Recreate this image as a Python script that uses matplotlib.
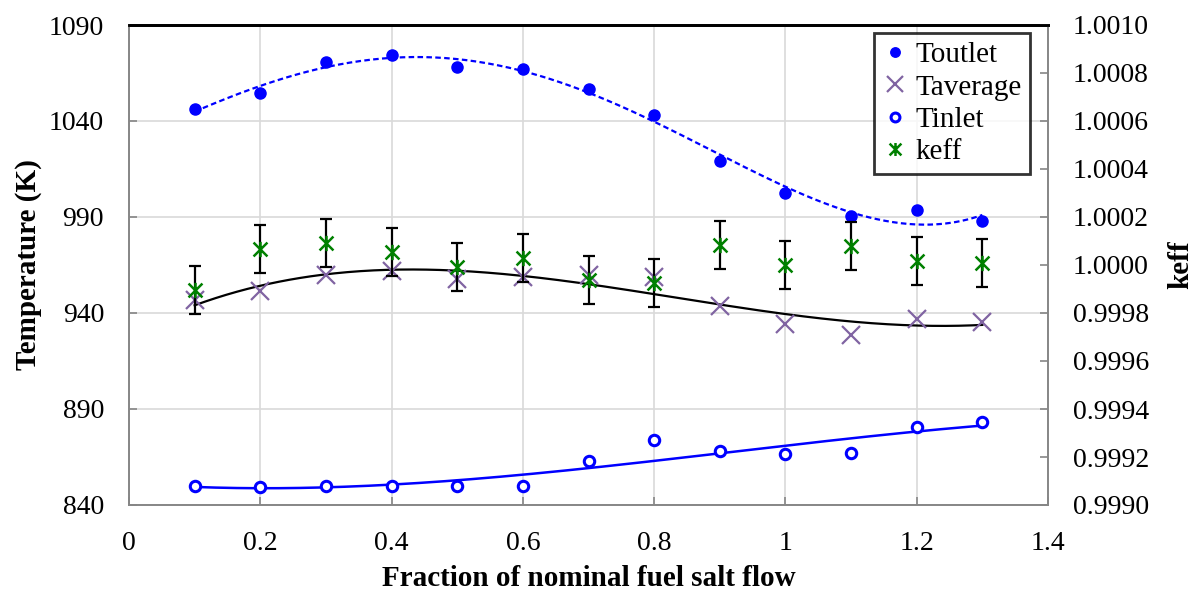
import numpy as np
import matplotlib
matplotlib.use("Agg")
import matplotlib.pyplot as plt
from matplotlib.path import Path

plt.rcParams['font.family'] = ['Liberation Serif', 'DejaVu Serif']

flow = [0.1, 0.2, 0.3, 0.4, 0.5, 0.6, 0.7, 0.8, 0.9, 1.0, 1.1, 1.2, 1.3]
t_outlet = [1046.4, 1054.4, 1070.6, 1074.4, 1068.3, 1067.1, 1056.5, 1043.3, 1019.2, 1002.3, 990.7, 993.5, 987.9]
t_average = [946.8, 951.6, 959.8, 962.0, 957.5, 958.6, 959.9, 958.6, 943.8, 934.3, 928.5, 936.9, 935.5]
t_inlet = [849.7, 849.5, 849.7, 850.1, 849.7, 849.9, 862.8, 873.7, 868.3, 866.4, 867.3, 880.5, 883.4]
keff = [0.999896, 1.000067, 1.000093, 1.000053, 0.999993, 1.000028, 0.999938, 0.999924,
        1.000083, 1.000000, 1.000079, 1.000017, 1.000007]
keff_err = [0.0001] * 13

x_ticks = [0, 0.2, 0.4, 0.6, 0.8, 1.0, 1.2, 1.4]
x_tick_labels = ['0', '0.2', '0.4', '0.6', '0.8', '1', '1.2', '1.4']
t_ticks = [840, 890, 940, 990, 1040, 1090]
k_ticks = [0.9990, 0.9992, 0.9994, 0.9996, 0.9998, 1.0000, 1.0002, 1.0004, 1.0006, 1.0008, 1.0010]

BLUE = '#0000FF'
PURPLE = '#8064A2'
GREEN = '#008000'
GRID = '#D9D9D9'
SPINE = '#868686'

fig = plt.figure(figsize=(11.93, 5.91), dpi=100)
ax = fig.add_axes([129 / 1193, 1 - 505 / 591, (1048 - 129) / 1193, (505 - 25) / 591])
ax2 = ax.twinx()

fx = np.array(flow)
xs = np.linspace(fx[0], fx[-1], 300)

# trendlines (polynomial fits)
ax.plot(xs, np.polyval(np.polyfit(fx, t_outlet, 4), xs), color=BLUE, lw=1.6, ls=(0, (2.5, 1.5)), zorder=3)
ax.plot(xs, np.polyval(np.polyfit(fx, t_average, 3), xs), color='black', lw=1.6, zorder=3)
ax.plot(xs, np.polyval(np.polyfit(fx, t_inlet, 3), xs), color=BLUE, lw=1.8, zorder=3)

h1, = ax.plot(flow, t_outlet, 'o', color=BLUE, ms=8, ls='none', zorder=4, label='Toutlet')
h2, = ax.plot(flow, t_average, 'x', color=PURPLE, ms=13, mew=1.6, ls='none', zorder=4, label='Taverage')
h3, = ax.plot(flow, t_inlet, 'o', mfc='white', mec=BLUE, mew=2.2, ms=7.5, ls='none', zorder=4, label='Tinlet')

star = Path([(-1, -1), (1, 1), (-1, 1), (1, -1), (0, -1.1), (0, 1.1)],
            [Path.MOVETO, Path.LINETO, Path.MOVETO, Path.LINETO, Path.MOVETO, Path.LINETO])
ax2.errorbar(flow, keff, yerr=keff_err, fmt='none', ecolor='black', elinewidth=1.6, capsize=4.3, capthick=1.6, zorder=3)
h4, = ax2.plot(flow, keff, marker=star, color=GREEN, ms=11, mew=1.8, ls='none', zorder=4, label='keff')

ax.set_xlim(0, 1.4)
ax.set_ylim(840, 1090)
ax2.set_ylim(0.9990, 1.0010)
ax.set_xticks(x_ticks)
ax.set_xticklabels(x_tick_labels)
ax.set_yticks(t_ticks)
ax2.set_yticks(k_ticks)
ax2.set_yticklabels([f'{v:.4f}' for v in k_ticks])

ax.grid(True, color=GRID, lw=1.2)
ax.set_axisbelow(True)

for a in (ax, ax2):
    for s in a.spines.values():
        s.set_color(SPINE)
        s.set_linewidth(1.2)
    a.tick_params(direction='in', length=6, width=1.2, color=SPINE, labelsize=20)
ax.spines['top'].set_color('black')
ax2.spines['top'].set_color('black')
ax.spines['top'].set_linewidth(2)
ax2.spines['top'].set_linewidth(2)
ax.tick_params(axis='x', pad=19)
ax.tick_params(axis='y', pad=18)
ax2.tick_params(axis='y', pad=18)

ax.set_xlabel('Fraction of nominal fuel salt flow', fontsize=21, fontweight='bold', labelpad=6)
ax.set_ylabel('Temperature (K)', fontsize=21, fontweight='bold', labelpad=5)
ax2.set_ylabel('keff', fontsize=21, fontweight='bold', labelpad=13)

leg = ax2.legend(handles=[h1, h2, h3, h4], loc='upper right', bbox_to_anchor=(0.9805, 0.983),
                 borderaxespad=0, fontsize=21, frameon=True, fancybox=False, handlelength=0.8,
                 handletextpad=0.3, borderpad=0.3, labelspacing=0.2, markerscale=0.85)
leg.get_frame().set_edgecolor('black')
leg.get_frame().set_linewidth(2)

fig.savefig('out.png', dpi=100)
